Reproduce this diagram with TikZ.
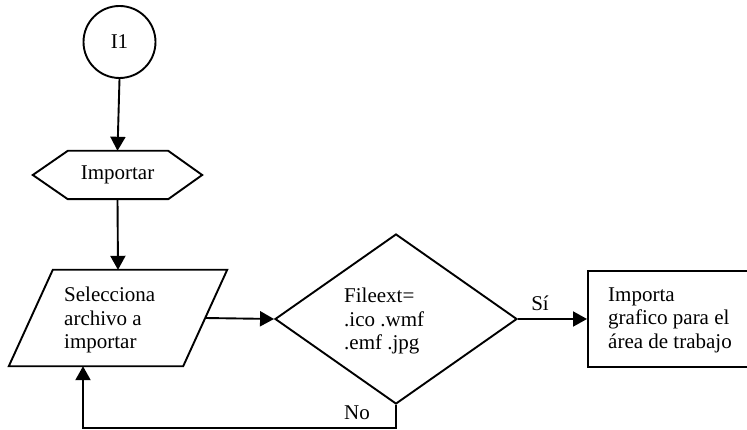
\documentclass[tikz,border=0pt]{standalone}
\usepackage{fontspec}
\setmainfont{Liberation Serif}
\usetikzlibrary{shapes.geometric,arrows.meta}
\tikzset{
  shp/.style={draw, line width=1.9pt},
  arr/.style={line width=1.9pt, -{Triangle[length=14pt,width=15pt]}},
  txt/.style={font=\fontsize{21}{23.5}\selectfont, inner sep=0pt, align=left},
  box/.style={inner sep=0pt}
}
\begin{document}
\begin{tikzpicture}[x=1pt,y=-1pt]
\useasboundingbox (0,0) rectangle (747,430);
\clip (0,0) rectangle (747,430);
% start circle
\node[shp, circle, minimum size=72pt, inner sep=0pt, txt] (start) at (119.5,42) {I1};
% hexagon
\node[box, minimum width=169pt, minimum height=48pt, txt] (imp) at (117.5,175) {Importar};
\draw[shp] (imp.west) -- ([xshift=35pt]imp.north west) -- ([xshift=-34pt]imp.north east)
  -- (imp.east) -- ([xshift=-34pt]imp.south east) -- ([xshift=35pt]imp.south west) -- cycle;
% parallelogram
\node[box, minimum width=174pt, minimum height=96pt] (sel) at (118,318) {};
\draw[shp] ([xshift=22pt]sel.north west) -- ([xshift=22pt]sel.north east)
  -- ([xshift=-22pt]sel.south east) -- ([xshift=-22pt]sel.south west) -- cycle;
\node[txt, anchor=west] (selt) at (64,320) {Selecciona\\archivo a\\importar};
% decision
\node[shp, diamond, minimum width=242pt, minimum height=170pt, inner sep=0pt] (dec) at (396,319) {};
\node[txt, anchor=west] (dect) at (344,321) {Fileext=\\.ico .wmf\\.emf .jpg};
% result box (cut at right edge)
\node[shp, minimum width=220pt, minimum height=96pt, anchor=west] (res) at (587,319) {};
\node[txt, anchor=west] (rest) at (608,320) {Importa\\grafico para el\\área de trabajo};
% connectors
\draw[arr] (start.south) -- (imp.north);
\draw[arr] (imp.south) -- (sel.north);
\draw[arr] (sel.east) -- (dec.west);
\draw[arr] (dec.east) -- node[txt, above=7pt, pos=0.32] (si) {Sí} (res.west);
\coordinate (loopend) at ([xshift=-35pt]sel.south);
\draw[arr] (dec.south) -- (dec.south |- 0,428) -| (loopend);
\node[txt] (no) at (357,413) {No};
\end{tikzpicture}
\end{document}
